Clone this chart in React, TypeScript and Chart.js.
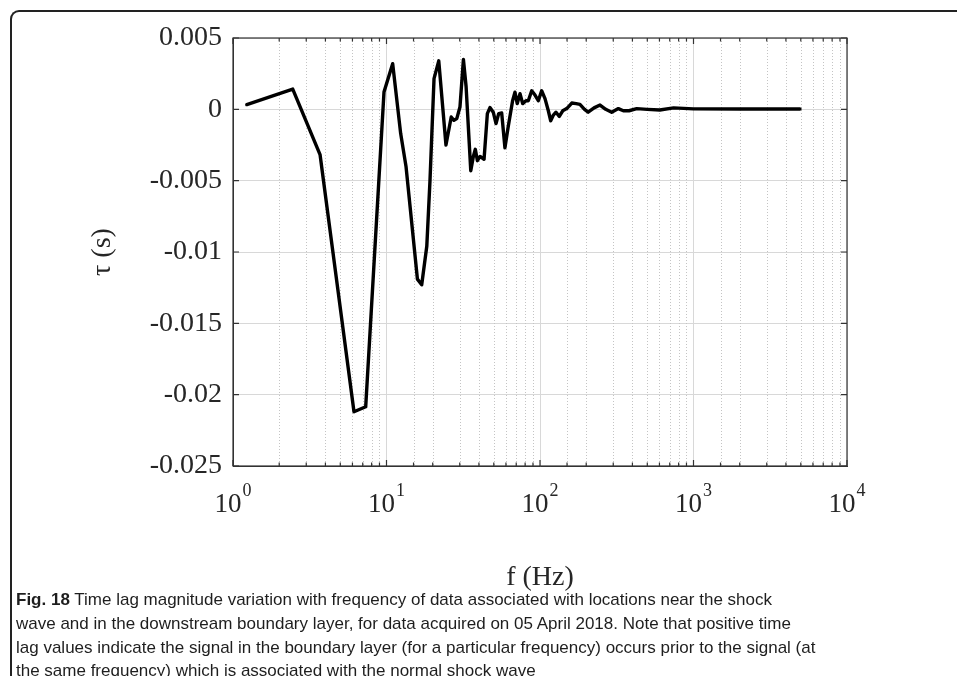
import React, { useEffect, useRef } from "react";
import { Chart, registerables } from "chart.js";

Chart.register(...registerables);

// ---- data ----
const freqHz: number[] = [
  1.23, 2.45, 3.69, 6.14, 7.32, 9.63, 10.97, 12.37, 13.4, 15.9,
  16.96, 18.3, 19.2, 20.4, 21.9, 24.4, 26.4, 27.5, 28.7, 30.1,
  31.7, 33.0, 35.4, 36.8, 37.9, 39.1, 40.7, 43.2, 45.4, 47.2,
  49.6, 51.7, 53.8, 56.3, 59.1, 62.1, 66.3, 68.7, 71.1, 74.1,
  77.1, 81.0, 83.9, 88.3, 92.8, 97.5, 102.5, 107.8, 113.3, 117.4,
  122.2, 127.1, 133.6, 140.6, 149.3, 156.8, 161, 172, 182, 195,
  206, 225, 246, 268, 293, 324, 349, 380, 427, 500,
  603, 742, 1000, 2000, 4940,
];
const tauS: number[] = [
  0.00033, 0.00142, -0.00317, -0.0212, -0.02085, 0.00121, 0.0032, -0.0017, -0.004, -0.0119,
  -0.0123, -0.0096, -0.005, 0.00215, 0.0034, -0.0025, -0.00054, -0.00077, -0.00065, 0.00016,
  0.0035, 0.0016, -0.0043, -0.0033, -0.0028, -0.0036, -0.0033, -0.0035, -0.0003, 0.00012,
  -0.0002, -0.001, -0.0003, -0.00026, -0.0027, -0.0012, 0.0006, 0.0012, 0.0004, 0.0011,
  0.0004, 0.0006, 0.0006, 0.0013, 0.001, 0.0006, 0.0013, 0.00075, -0.0001, -0.0008,
  -0.0004, -0.0002, -0.0005, -0.0001, 0.00005, 0.0003, 0.00044, 0.0004, 0.00035, 0.0,
  -0.0002, 0.0001, 0.0003, 0.0, -0.0002, 0.00005, -0.0001, -0.0001, 0.00005, 0.0,
  -0.00005, 0.0001, 0.00003, 0.00002, 0.00002,
];
// x tick labels as base^exponent (exponent drawn as a superscript)
const xTickLabels: string[] = ["10^0", "10^1", "10^2", "10^3", "10^4"];
const yTickLabels: string[] = ["-0.025", "-0.02", "-0.015", "-0.01", "-0.005", "0", "0.005"];
const xTitle = "f (Hz)";
const yTitle = "\u03C4 (s)";

const isMajor = (v: number) => Math.abs(Math.log10(v) - Math.round(Math.log10(v))) < 1e-9;

const serif = "'Liberation Serif', 'Times New Roman', serif";
const tickColor = "#262626";

const matlabPlugin = {
  id: "matlabPlugin",
  beforeDatasetsDraw(chart: any) {
    const { ctx, chartArea: a, scales } = chart;
    const xs = scales.x;
    ctx.save();
    ctx.strokeStyle = "#c4c4c4";
    ctx.lineWidth = 1;
    ctx.setLineDash([1, 2]);
    xs.ticks.forEach((t: any) => {
      if (!isMajor(t.value)) {
        const px = Math.round(xs.getPixelForValue(t.value)) + 0.5;
        ctx.beginPath();
        ctx.moveTo(px, a.top);
        ctx.lineTo(px, a.bottom);
        ctx.stroke();
      }
    });
    ctx.restore();
  },
  afterDraw(chart: any) {
    const { ctx, chartArea: a, scales } = chart;
    const xs = scales.x;
    const ys = scales.y;
    ctx.save();
    ctx.strokeStyle = "#333";
    ctx.lineWidth = 1.2;
    ctx.strokeRect(a.left, a.top, a.right - a.left, a.bottom - a.top);
    ctx.beginPath();
    xs.ticks.forEach((t: any) => {
      const px = xs.getPixelForValue(t.value);
      const len = isMajor(t.value) ? 6 : 3.5;
      ctx.moveTo(px, a.bottom);
      ctx.lineTo(px, a.bottom - len);
      ctx.moveTo(px, a.top);
      ctx.lineTo(px, a.top + len);
    });
    ys.ticks.forEach((t: any) => {
      const py = ys.getPixelForValue(t.value);
      ctx.moveTo(a.left, py);
      ctx.lineTo(a.left + 6, py);
      ctx.moveTo(a.right, py);
      ctx.lineTo(a.right - 6, py);
    });
    ctx.stroke();

    // x tick labels: "10" with raised exponent, at the scale's major tick positions
    ctx.fillStyle = tickColor;
    ctx.textBaseline = "alphabetic";
    ctx.textAlign = "left";
    const baseFont = `27px ${serif}`;
    const expFont = `18px ${serif}`;
    xs.ticks.forEach((t: any) => {
      if (!isMajor(t.value)) return;
      const label = xTickLabels[Math.round(Math.log10(t.value))];
      if (!label) return;
      const [base, exp] = label.split("^");
      ctx.font = baseFont;
      const bw = ctx.measureText(base).width;
      ctx.font = expFont;
      const ew = ctx.measureText(exp).width;
      const px = xs.getPixelForValue(t.value);
      const x0 = px - (bw + ew + 1) / 2;
      const baseY = a.bottom + 46;
      ctx.font = baseFont;
      ctx.fillText(base, x0, baseY);
      ctx.font = expFont;
      ctx.fillText(exp, x0 + bw + 1, baseY - 16);
    });
    ctx.restore();
  },
};

function TauChart() {
  const ref = useRef<HTMLCanvasElement | null>(null);
  useEffect(() => {
    if (!ref.current) return;
    const points = freqHz.map((f, i) => ({ x: f, y: tauS[i] }));
    const chart = new Chart(ref.current, {
      type: "line",
      data: {
        datasets: [
          {
            data: points,
            borderColor: "#000",
            borderWidth: 3.4,
            pointRadius: 0,
            tension: 0,
            fill: false,
            borderJoinStyle: "round",
            borderCapStyle: "round",
          } as any,
        ],
      },
      options: {
        animation: false,
        responsive: false,
        devicePixelRatio: 1,
        layout: { padding: { top: 38, right: 110, left: 0, bottom: 0 } },
        plugins: { legend: { display: false }, tooltip: { enabled: false } },
        scales: {
          x: {
            type: "logarithmic",
            min: 1,
            max: 10000,
            afterFit: (s: any) => {
              s.height = 210;
            },
            grid: {
              color: (c: any) => (c.tick && isMajor(c.tick.value) ? "#d8d8d8" : "rgba(0,0,0,0)"),
              drawTicks: false,
              lineWidth: 1,
            },
            border: { display: true, color: "#333", width: 1 },
            ticks: {
              display: false,
              autoSkip: false,
              maxRotation: 0,
              minRotation: 0,
            },
            title: {
              display: true,
              text: xTitle,
              color: tickColor,
              font: { family: serif, size: 28 },
              padding: { top: 0, bottom: 82 },
            },
          },
          y: {
            type: "linear",
            min: -0.025,
            max: 0.005,
            afterFit: (s: any) => {
              s.width = 233;
            },
            grid: { color: "#d8d8d8", drawTicks: false, lineWidth: 1 },
            border: { display: true, color: "#333", width: 1 },
            ticks: {
              stepSize: 0.005,
              padding: 11,
              color: tickColor,
              font: { family: serif, size: 28 },
              callback: (_v: any, i: number) => yTickLabels[i],
            },
            title: {
              display: true,
              text: yTitle,
              color: tickColor,
              font: { family: serif, size: 28 },
              padding: { top: 86, bottom: 0 },
            },
          },
        },
      },
      plugins: [matlabPlugin],
    });
    return () => chart.destroy();
  }, []);
  return (
    <canvas
      ref={ref}
      width={957}
      height={676}
      style={{ position: "absolute", left: 0, top: 0, width: 957, height: 676 }}
    />
  );
}

export default function App() {
  const cap = "'Liberation Sans', Arial, sans-serif";
  return (
    <div
      style={{
        position: "fixed",
        left: 0,
        top: 0,
        width: 957,
        height: 676,
        overflow: "hidden",
        background: "#fff",
      }}
    >
      <div
        style={{
          position: "absolute",
          left: 10,
          top: 10,
          width: 1000,
          height: 800,
          borderTop: "2px solid #222",
          borderLeft: "2px solid #222",
          borderTopLeftRadius: 9,
          boxSizing: "border-box",
        }}
      />
      <TauChart />
      <div
        style={{
          position: "absolute",
          left: 16,
          top: 588,
          fontFamily: cap,
          fontSize: 17,
          lineHeight: "23.8px",
          color: "#1e1e1e",
          whiteSpace: "nowrap",
        }}
      >
        <div>
          <b>Fig. 18</b> Time lag magnitude variation with frequency of data associated with locations near the shock
        </div>
        <div>
          wave and in the downstream boundary layer, for data acquired on 05 April 2018. Note that positive time
        </div>
        <div>
          lag values indicate the signal in the boundary layer (for a particular frequency) occurs prior to the signal (at
        </div>
        <div>the same frequency) which is associated with the normal shock wave</div>
      </div>
    </div>
  );
}
